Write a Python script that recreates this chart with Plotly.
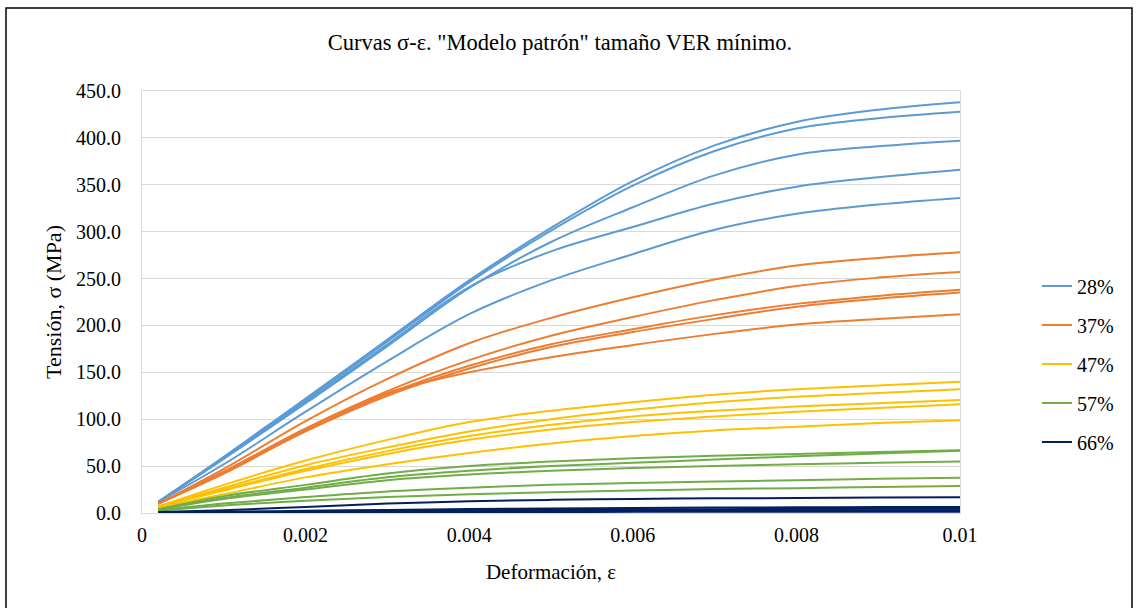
import plotly.graph_objects as go

# Strain values (x)
strain = [0.0002, 0.001, 0.002, 0.003, 0.004, 0.005, 0.006, 0.007, 0.008, 0.009, 0.01]

# Legend labels and colours
labels = ["28%", "37%", "47%", "57%", "66%"]
colors = ["#5B9BD5", "#ED7D31", "#FFC000", "#70AD47", "#002060"]

# Stress curves (MPa), five curves per group
sigma_28 = [
    [12, 60, 122, 185, 248, 304, 354, 392, 417, 430, 438],
    [12, 59, 120, 183, 246, 301, 349, 386, 410, 421, 428],
    [12, 58, 117, 178, 240, 289, 326, 360, 382, 391, 397],
    [12, 58, 118, 180, 241, 279, 305, 330, 348, 358, 366],
    [12, 52, 108, 162, 212, 248, 276, 302, 319, 329, 336],
]
sigma_37 = [
    [10, 47, 98, 143, 181, 208, 230, 249, 264, 272, 278],
    [10, 44, 90, 130, 163, 189, 209, 227, 242, 251, 257],
    [10, 43, 88, 127, 157, 180, 196, 211, 223, 231.5, 238],
    [10, 42, 87, 125, 154, 177, 193, 207, 220, 228.5, 235],
    [10, 44, 90, 128, 150, 166, 179, 191, 201, 207, 212],
]
sigma_47 = [
    [7, 30, 56, 78, 97, 109, 118, 126, 132, 136, 140],
    [7, 27, 51, 70, 87, 100, 110, 118, 124, 128, 132],
    [7, 25, 47, 66, 82, 94, 103, 109, 113.5, 117, 120.5],
    [7, 24, 45, 63, 78, 89, 97, 103, 108, 112, 116],
    [6, 20, 38, 52, 64, 74, 82, 88, 92, 96, 99],
]
sigma_57 = [
    [4, 18, 30, 42, 50, 55, 58.5, 61, 63, 65, 67],
    [4, 16, 27, 38, 45, 50, 53.5, 57, 60.5, 63.5, 66.5],
    [4, 15, 25, 35, 41, 45, 48, 50, 52, 53.5, 55],
    [3, 10, 17, 23, 27, 30, 32, 33.5, 35, 36.5, 37.6],
    [2.5, 8, 13, 17, 20, 22, 24, 25.5, 26.5, 27.8, 28.7],
]
sigma_66 = [
    [1, 3, 6.5, 10, 12.5, 14, 15, 15.6, 16, 16.4, 16.7],
    [0.6, 1.3, 2.3, 3.3, 4.2, 4.9, 5.4, 5.8, 6.1, 6.3, 6.4],
    [0.5, 1.0, 1.7, 2.4, 3.0, 3.5, 3.9, 4.1, 4.3, 4.4, 4.5],
    [0.4, 0.8, 1.2, 1.7, 2.1, 2.4, 2.6, 2.8, 2.9, 3.0, 3.0],
    [0.2, 0.4, 0.6, 0.8, 1.0, 1.1, 1.2, 1.3, 1.35, 1.4, 1.4],
]

x_tickvals = [0, 0.002, 0.004, 0.006, 0.008, 0.01]
x_ticktext = ["0", "0.002", "0.004", "0.006", "0.008", "0.01"]
y_tickvals = [0, 50, 100, 150, 200, 250, 300, 350, 400, 450]

groups = [sigma_28, sigma_37, sigma_47, sigma_57, sigma_66]

FONT = "Liberation Serif, Times New Roman, serif"

fig = go.Figure()
for label, color, group in zip(labels, colors, groups):
    for i, curve in enumerate(group):
        fig.add_trace(go.Scatter(
            x=strain, y=curve, mode="lines",
            line=dict(color=color, width=2, shape="spline", smoothing=1),
            name=label, legendgroup=label, showlegend=(i == 0),
            hoverinfo="x+y+name",
        ))

L, R, T, B = 142, 178, 91, 95
W, H = 1138, 608
pw, ph = W - L - R, H - T - B

def px_to_paper_x(px):
    return (px - L) / pw

def px_to_paper_y(py):
    return (H - B - py) / ph

fig.update_layout(
    width=W, height=H,
    margin=dict(l=L, r=R, t=T, b=B),
    paper_bgcolor="white", plot_bgcolor="white",
    font=dict(family=FONT, color="#000000", size=20),
    title=dict(
        text='Curvas σ-ε. "Modelo patrón" tamaño VER mínimo.',
        x=0.492, xref="container", xanchor="center",
        y=1 - 42 / H, yref="container", yanchor="middle",
        font=dict(family=FONT, size=22.5, color="#000000"),
    ),
    xaxis=dict(
        range=[0, 0.01], tickvals=x_tickvals, ticktext=x_ticktext,
        showgrid=False, zeroline=False,
        showline=True, linecolor="#D9D9D9", linewidth=1, mirror=True,
        ticks="outside", ticklen=4, tickcolor="rgba(0,0,0,0)",
        tickfont=dict(family=FONT, size=20),
        title=dict(text="Deformación, ε", font=dict(family=FONT, size=21), standoff=19),
    ),
    yaxis=dict(
        range=[0, 450], tickvals=y_tickvals, tickformat=".1f",
        showgrid=True, gridcolor="#D9D9D9", gridwidth=1, zeroline=False,
        showline=True, linecolor="#D9D9D9", linewidth=1, mirror=True,
        ticks="outside", ticklen=16, tickcolor="rgba(0,0,0,0)",
        tickfont=dict(family=FONT, size=20),
        title=dict(text="Tensión, σ (MPa)", font=dict(family=FONT, size=22), standoff=8),
    ),
    legend=dict(
        x=px_to_paper_x(1037), y=px_to_paper_y(364), xanchor="left", yanchor="middle",
        font=dict(family=FONT, size=20), tracegroupgap=10,
        bgcolor="rgba(0,0,0,0)",
    ),
    shapes=[dict(
        type="rect", xref="paper", yref="paper",
        x0=px_to_paper_x(6), x1=px_to_paper_x(1132),
        y0=px_to_paper_y(620), y1=px_to_paper_y(8),
        line=dict(color="#000000", width=1.5), fillcolor="rgba(0,0,0,0)",
        layer="above",
    )],
)

fig.write_html("out.html")
